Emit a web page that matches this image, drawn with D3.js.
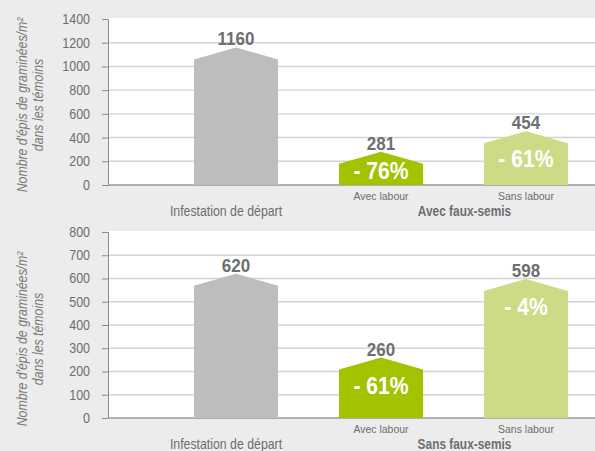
<!DOCTYPE html>
<html>
<head>
<meta charset="utf-8">
<script src="https://cdn.jsdelivr.net/npm/d3@7"></script>
<style>
  html, body { margin: 0; padding: 0; background: #ebeceb; }
  svg { display: block; font-family: "Liberation Sans", Arial, sans-serif; }
</style>
</head>
<body>
<div id="chart"></div>
<script>
// Épis de graminées — deux panneaux (avec / sans faux-semis)
const categories   = ['Infestation de départ', 'Avec labour', 'Sans labour'];
const panelTitles  = ['Avec faux-semis', 'Sans faux-semis'];
const valuesAvec   = [1160, 281, 454];
const valuesSans   = [620, 260, 598];
const pctAvec      = [null, '- 76%', '- 61%'];
const pctSans      = [null, '- 61%', '- 4%'];
const yMaxes       = [1400, 800];
const yStepTicks   = [200, 100];
const yTitle       = ["Nombre d'épis de graminées/m²", 'dans les témoins'];

const W = 595, H = 451;
const colors = ['#bdbdbd', '#a3c200', '#cddb86'];
const textGrey = '#6d6e70';

// pas de police condensée installée : on resserre le texte à la main
function squeeze(sel, sx) {
  sel.each(function () {
    const t = d3.select(this);
    const x = +t.attr('x') || 0, y = +t.attr('y') || 0;
    t.attr('x', 0).attr('y', 0).attr('transform', `translate(${x},${y}) scale(${sx},1)`);
  });
}

const svg = d3.select('#chart').append('svg').attr('width', W).attr('height', H);

const panels = [
  { top: 19, bottom: 185, bgTop: 18, titleY: 105, values: valuesAvec, pct: pctAvec, yMax: yMaxes[0], step: yStepTicks[0], title: panelTitles[0] },
  { top: 232, bottom: 418, bgTop: 231, titleY: 339, values: valuesSans, pct: pctSans, yMax: yMaxes[1], step: yStepTicks[1], title: panelTitles[1] },
];

const left = 108;
const x = d3.scaleBand().domain(categories).range([left, 654]).paddingInner(0.42).paddingOuter(0.593);
const bw = x.bandwidth();
const cx = c => x(c) + bw / 2;

panels.forEach(p => {
  const g = svg.append('g');
  const y = d3.scaleLinear().domain([0, p.yMax]).range([p.bottom, p.top]);

  g.append('rect')
    .attr('x', left).attr('y', p.bgTop)
    .attr('width', W - left).attr('height', p.bottom - p.bgTop)
    .attr('fill', '#fff');

  // gridlines
  const ticks = d3.range(0, p.yMax + 1, p.step);
  g.selectAll('.grid').data(ticks.filter(t => t > 0 && t < p.yMax)).join('line')
    .attr('x1', left).attr('x2', W)
    .attr('y1', d => y(d)).attr('y2', d => y(d))
    .attr('stroke', '#d3d3d3').attr('stroke-width', 1.4);

  // y axis
  const ax = g.append('g').attr('transform', `translate(${left},0)`)
    .call(d3.axisLeft(y).tickValues(ticks).tickFormat(d3.format('d'))
      .tickSize(6).tickPadding(12).tickSizeOuter(6));
  ax.select('.domain').attr('stroke', '#8a8a8a');
  ax.selectAll('.tick line').attr('stroke', '#8a8a8a');
  ax.selectAll('.tick text').attr('fill', textGrey).attr('font-size', 14)
    .attr('font-family', '"Liberation Sans", Arial, sans-serif').call(squeeze, 0.89);

  // baseline
  g.append('line').attr('x1', left).attr('x2', W)
    .attr('y1', p.bottom).attr('y2', p.bottom)
    .attr('stroke', '#9a9a9a').attr('stroke-width', 1.5);

  // bars (pentagone : sommet à la valeur, épaules 12px plus bas)
  g.selectAll('.bar').data(p.values).join('path')
    .attr('fill', (d, i) => colors[i])
    .attr('d', (d, i) => {
      const x0 = x(categories[i]), x1 = x0 + bw, xm = x0 + bw / 2;
      const yp = y(d), ys = yp + 12, yb = p.bottom;
      return `M${x0},${yb}L${x0},${ys}L${xm},${yp}L${x1},${ys}L${x1},${yb}Z`;
    });

  // value labels
  g.selectAll('.val').data(p.values).join('text')
    .attr('x', (d, i) => cx(categories[i]))
    .attr('y', d => y(d) - 2)
    .attr('text-anchor', 'middle')
    .attr('font-size', 18.5).attr('font-weight', 'bold')
    .attr('fill', textGrey)
    .text(d => d)
    .call(squeeze, 0.92);

  // percentage labels
  const pctData = p.pct.map((d, i) => ({ d, i })).filter(o => o.d);
  g.selectAll('.pct').data(pctData).join('text')
    .attr('x', o => cx(categories[o.i]))
    .attr('y', o => Math.min(y(p.values[o.i]) + 36, p.bottom - 6))
    .attr('text-anchor', 'middle')
    .attr('font-size', 23).attr('font-weight', 'bold')
    .attr('fill', '#fff')
    .text(o => o.d)
    .call(squeeze, 0.92);

  // category labels
  g.append('text')
    .attr('x', cx(categories[0]) - 10).attr('y', p.bottom + 31)
    .attr('text-anchor', 'middle').attr('font-size', 14).attr('fill', textGrey)
    .text(categories[0])
    .call(squeeze, 0.88);
  g.selectAll('.sub').data(categories.slice(1)).join('text')
    .attr('x', c => cx(c)).attr('y', p.bottom + 15)
    .attr('text-anchor', 'middle').attr('font-size', 11.5).attr('fill', textGrey)
    .text(c => c)
    .call(squeeze, 0.91);
  const midX = (cx(categories[1]) + cx(categories[2])) / 2 + 11;
  g.append('text')
    .attr('x', midX).attr('y', p.bottom + 31)
    .attr('text-anchor', 'middle').attr('font-size', 14.5).attr('font-weight', 'bold')
    .attr('fill', textGrey)
    .text(p.title)
    .call(squeeze, 0.82);

  // y title
  const t = g.append('text')
    .attr('transform', `translate(27,${p.titleY}) rotate(-90) scale(0.88,1)`)
    .attr('text-anchor', 'middle').attr('font-size', 14).attr('font-style', 'italic')
    .attr('fill', '#7a7a7a');
  t.append('tspan').attr('x', 0).attr('dy', 0).text(yTitle[0]);
  t.append('tspan').attr('x', 0).attr('dy', 16).text(yTitle[1]);
});
</script>
</body>
</html>
